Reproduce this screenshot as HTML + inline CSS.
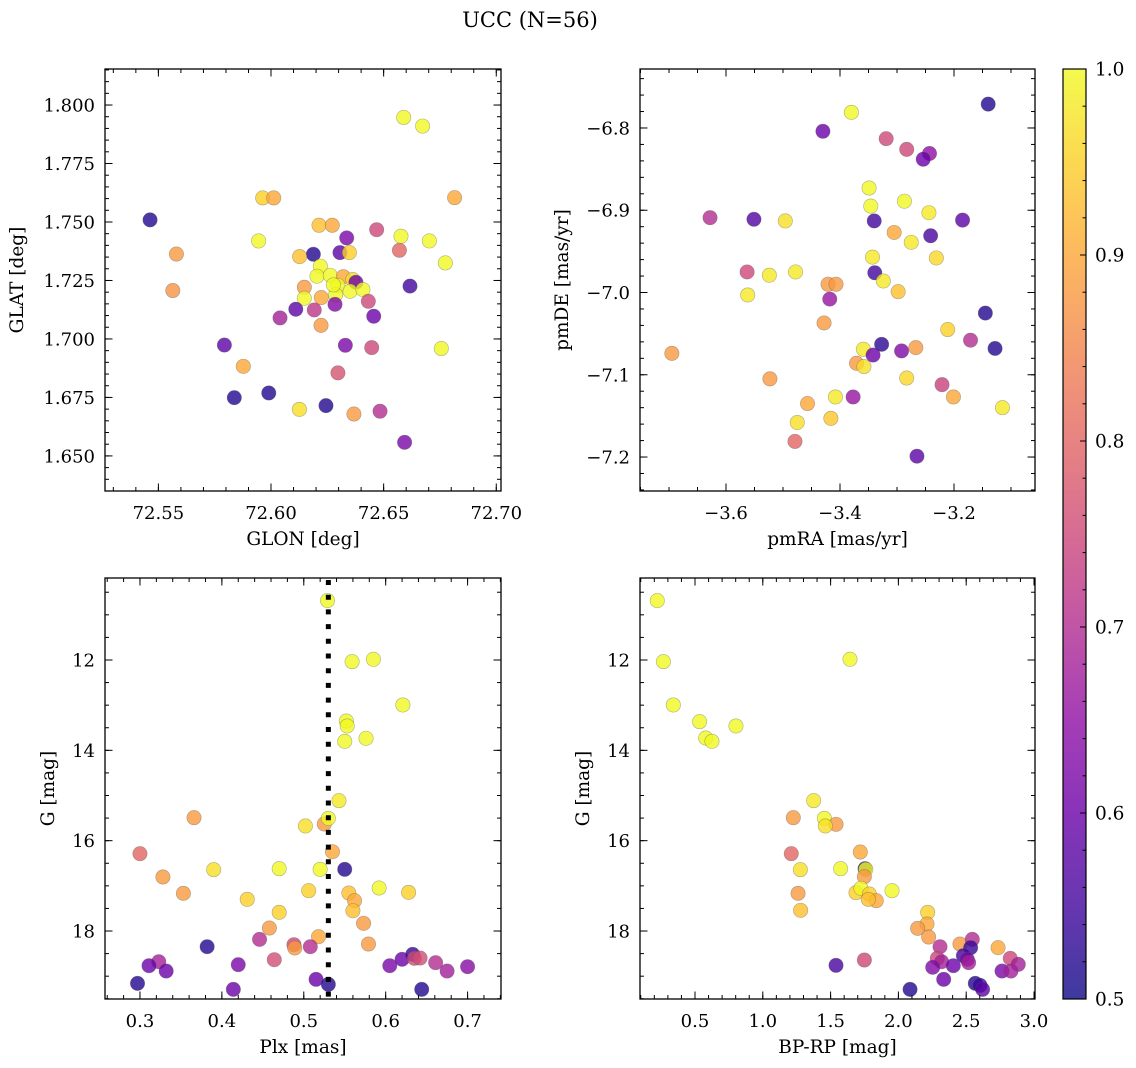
<!DOCTYPE html>
<html><head><meta charset="utf-8"><title>UCC (N=56)</title>
<style>
html,body{margin:0;padding:0;background:#fff;}
svg{display:block;font-family:"DejaVu Serif","Liberation Serif",serif;}
</style></head>
<body>
<svg id="fig" width="1136" height="1068" viewBox="0 0 1136 1068" xmlns="http://www.w3.org/2000/svg">
<text x="530" y="27" font-size="21" text-anchor="middle">UCC (N=56)</text>
</svg>
<script>
// ---- Top-left: GLON / GLAT ----
const tlGlon = [72.6589,72.6673,72.6815,72.5463,72.5963,72.6012,72.5945,72.5580,72.5564,72.6213,72.6272,72.6336,72.6469,72.6577,72.6703,72.6570,72.6774,72.6188,72.6306,72.6348,72.6127,72.6219,72.6204,72.6263,72.6321,72.6363,72.6377,72.6297,72.6148,72.6351,72.6408,72.6287,72.6148,72.6223,72.6617,72.6284,72.6432,72.6110,72.6192,72.6040,72.6456,72.6222,72.5793,72.6330,72.6447,72.6756,72.5877,72.6297,72.5837,72.5990,72.6126,72.6244,72.6368,72.6484,72.6593,72.6277];
const tlGlat = [1.7947,1.7910,1.7604,1.7509,1.7603,1.7603,1.7419,1.7363,1.7207,1.7486,1.7486,1.7432,1.7467,1.7439,1.7419,1.7379,1.7325,1.7362,1.7369,1.7369,1.7352,1.7311,1.7268,1.7272,1.7266,1.7254,1.7242,1.7229,1.7221,1.7204,1.7211,1.7189,1.7174,1.7177,1.7226,1.7148,1.7161,1.7127,1.7124,1.7090,1.7097,1.7058,1.6974,1.6973,1.6963,1.6959,1.6883,1.6855,1.6749,1.6769,1.6699,1.6715,1.6679,1.6691,1.6558,1.7231];
const tlProb = [1.0,1.0,0.9,0.52,0.95,0.9,1.0,0.88,0.87,0.93,0.9,0.62,0.75,1.0,1.0,0.8,1.0,0.52,0.58,0.95,0.93,1.0,1.0,1.0,0.9,0.97,0.6,1.0,0.88,1.0,1.0,1.0,1.0,0.9,0.55,0.63,0.75,0.58,0.72,0.68,0.6,0.88,0.58,0.62,0.75,1.0,0.9,0.77,0.52,0.52,0.97,0.52,0.88,0.7,0.62,1.0];
// ---- Top-right: pmRA / pmDE ----
const trPmra = [-3.140,-3.380,-3.430,-3.319,-3.283,-3.243,-3.254,-3.349,-3.287,-3.346,-3.244,-3.628,-3.551,-3.496,-3.340,-3.185,-3.305,-3.275,-3.241,-3.343,-3.231,-3.563,-3.524,-3.478,-3.339,-3.324,-3.421,-3.407,-3.298,-3.562,-3.418,-3.145,-3.428,-3.211,-3.695,-3.523,-3.479,-3.475,-3.457,-3.416,-3.408,-3.377,-3.371,-3.359,-3.358,-3.342,-3.327,-3.292,-3.283,-3.267,-3.265,-3.221,-3.201,-3.171,-3.128,-3.115];
const trPmde = [-6.771,-6.781,-6.804,-6.813,-6.826,-6.831,-6.838,-6.873,-6.889,-6.895,-6.903,-6.909,-6.911,-6.913,-6.913,-6.912,-6.927,-6.939,-6.931,-6.957,-6.958,-6.975,-6.979,-6.975,-6.976,-6.986,-6.990,-6.990,-6.999,-7.003,-7.008,-7.025,-7.037,-7.045,-7.074,-7.105,-7.181,-7.158,-7.135,-7.153,-7.127,-7.127,-7.086,-7.069,-7.090,-7.076,-7.063,-7.071,-7.104,-7.067,-7.199,-7.112,-7.127,-7.058,-7.068,-7.140];
const trProb = [0.52,1.0,0.6,0.75,0.75,0.65,0.6,1.0,1.0,1.0,0.98,0.7,0.57,0.97,0.55,0.58,0.9,0.98,0.56,0.98,0.96,0.75,0.98,0.98,0.55,0.98,0.88,0.88,0.93,0.98,0.66,0.52,0.88,0.95,0.88,0.88,0.8,0.97,0.9,0.94,0.98,0.66,0.88,0.98,0.97,0.6,0.53,0.63,0.96,0.88,0.58,0.74,0.9,0.7,0.52,0.98];
// ---- Bottom-left: Plx / G ----
const blPlx = [0.529,0.559,0.585,0.621,0.552,0.553,0.550,0.576,0.543,0.366,0.502,0.525,0.530,0.535,0.300,0.390,0.470,0.520,0.550,0.328,0.353,0.431,0.506,0.555,0.562,0.592,0.628,0.470,0.560,0.458,0.573,0.518,0.579,0.446,0.488,0.489,0.508,0.382,0.464,0.323,0.311,0.332,0.420,0.605,0.620,0.633,0.635,0.642,0.661,0.675,0.700,0.297,0.414,0.515,0.530,0.644];
const blG = [10.686,12.037,11.985,12.996,13.351,13.461,13.801,13.734,15.114,15.491,15.675,15.631,15.506,16.244,16.288,16.642,16.620,16.635,16.635,16.804,17.166,17.299,17.107,17.159,17.328,17.048,17.144,17.587,17.550,17.934,17.830,18.125,18.288,18.185,18.303,18.376,18.347,18.347,18.635,18.679,18.768,18.886,18.745,18.768,18.627,18.517,18.605,18.598,18.701,18.886,18.790,19.159,19.292,19.070,19.181,19.292];
const blProb = [1.0,1.0,1.0,1.0,1.0,1.0,1.0,1.0,0.98,0.88,0.97,0.88,1.0,0.9,0.8,0.97,1.0,1.0,0.52,0.88,0.88,0.95,0.95,0.93,0.9,1.0,0.95,0.95,0.93,0.88,0.88,0.9,0.88,0.7,0.75,0.88,0.7,0.52,0.76,0.68,0.6,0.6,0.62,0.62,0.6,0.54,0.75,0.76,0.7,0.68,0.64,0.52,0.6,0.6,0.52,0.52];
// ---- Bottom-right: BP-RP / G ----
const brBprp = [0.222,0.267,1.643,0.340,0.534,0.579,0.625,0.802,1.375,1.225,1.454,1.540,1.461,1.719,1.210,1.277,1.574,1.754,1.759,1.749,1.260,1.279,1.687,1.724,1.786,1.837,1.778,1.953,2.216,2.211,2.142,2.223,2.307,2.454,2.545,2.533,2.735,2.287,2.319,2.479,2.508,2.518,2.253,2.405,2.825,2.884,2.764,2.830,2.334,2.567,2.602,2.621,2.086,1.540,1.749];
const brG = [10.686,12.037,11.985,12.996,13.365,13.727,13.801,13.461,15.114,15.491,15.506,15.638,15.675,16.251,16.288,16.642,16.620,16.620,16.635,16.797,17.166,17.542,17.151,17.055,17.181,17.328,17.299,17.107,17.587,17.845,17.941,18.133,18.347,18.288,18.185,18.369,18.369,18.605,18.679,18.546,18.627,18.701,18.804,18.768,18.605,18.738,18.886,18.886,19.070,19.159,19.203,19.292,19.292,18.760,18.642];
const brProb = [1.0,1.0,1.0,1.0,1.0,1.0,1.0,1.0,0.98,0.88,1.0,0.88,0.97,0.9,0.8,0.97,1.0,0.52,1.0,0.88,0.88,0.93,0.95,1.0,0.95,0.9,0.93,1.0,0.95,0.9,0.88,0.88,0.7,0.88,0.7,0.54,0.9,0.75,0.68,0.55,0.62,0.68,0.63,0.6,0.75,0.68,0.62,0.68,0.6,0.52,0.54,0.58,0.52,0.56,0.75];
// ---- Tick labels ----
const tlXTicks = [72.55,72.60,72.65,72.70];
const tlXLabels = ["72.55","72.60","72.65","72.70"];
const tlYTicks = [1.650,1.675,1.700,1.725,1.750,1.775,1.800];
const tlYLabels = ["1.650","1.675","1.700","1.725","1.750","1.775","1.800"];
const trXTicks = [-3.6,-3.4,-3.2];
const trXLabels = ["\u22123.6","\u22123.4","\u22123.2"];
const trYTicks = [-6.8,-6.9,-7.0,-7.1,-7.2];
const trYLabels = ["\u22126.8","\u22126.9","\u22127.0","\u22127.1","\u22127.2"];
const blXTicks = [0.3,0.4,0.5,0.6,0.7];
const blXLabels = ["0.3","0.4","0.5","0.6","0.7"];
const gTicks = [12,14,16,18];
const gLabels = ["12","14","16","18"];
const brXTicks = [0.5,1.0,1.5,2.0,2.5,3.0];
const brXLabels = ["0.5","1.0","1.5","2.0","2.5","3.0"];
const cbTicks = [0.5,0.6,0.7,0.8,0.9,1.0];
const cbLabels = ["0.5","0.6","0.7","0.8","0.9","1.0"];
const plxLine = 0.53;

const NS = "http://www.w3.org/2000/svg";
const svg = document.getElementById('fig');
function mk(tag, attrs, parent){
  const e = document.createElementNS(NS, tag);
  for (const k in attrs) e.setAttribute(k, attrs[k]);
  (parent||svg).appendChild(e);
  return e;
}
const plasma = [[13,8,135],[65,4,157],[106,0,168],[143,13,164],[177,42,144],[204,71,120],[225,100,98],[242,132,75],[252,166,54],[252,206,37],[240,249,33]];
function cmap(t){
  t = Math.max(0, Math.min(1, t));
  const f = t*10, i = Math.min(9, Math.floor(f)), r = f - i;
  const a = plasma[i], b = plasma[i+1];
  return 'rgb(' + [0,1,2].map(k => Math.round(a[k] + (b[k]-a[k])*r)).join(',') + ')';
}
const vmin = 0.5, vmax = 1.0;
const TICKFS = 18, TITLEFS = 18.5;

function panel(cfg){
  const g = mk('g', {});
  
  
  const sx = v => cfg.x0 + (v - cfg.xmin) / (cfg.xmax - cfg.xmin) * (cfg.x1 - cfg.x0);
  const sy = cfg.invert
    ? (v => cfg.y0 + (v - cfg.ymin) / (cfg.ymax - cfg.ymin) * (cfg.y1 - cfg.y0))
    : (v => cfg.y1 - (v - cfg.ymin) / (cfg.ymax - cfg.ymin) * (cfg.y1 - cfg.y0));
  const pts = mk('g', {}, g);
  
  
  for (let i = 0; i < cfg.xs.length; i++){
    const c = mk('circle', {cx: sx(cfg.xs[i]), cy: sy(cfg.ys[i]), r: 7.2,
      fill: cmap((cfg.cs[i]-vmin)/(vmax-vmin)), 'fill-opacity': 0.8,
      stroke: '#555', 'stroke-opacity': 0.45, 'stroke-width': 0.6}, pts);
    
    
  }
  if (cfg.vline !== undefined){
    const l = mk('line', {x1: sx(cfg.vline), x2: sx(cfg.vline), y1: cfg.y0+2, y2: cfg.y1, stroke: '#000', 'stroke-width': 5, 'stroke-dasharray': '5 9.7'}, g);
    
    
  }
  const fr = mk('rect', {x: cfg.x0, y: cfg.y0, width: cfg.x1-cfg.x0, height: cfg.y1-cfg.y0, fill: 'none', stroke: '#000', 'stroke-width': 1.3}, g);
  
  
  const tk = mk('g', {stroke: '#000', 'stroke-width': 1}, g);
  
  
  function xt(v, len){ const x = sx(v); mk('line', {x1:x,x2:x,y1:cfg.y1,y2:cfg.y1-len}, tk); mk('line', {x1:x,x2:x,y1:cfg.y0,y2:cfg.y0+len}, tk); }
  function yt(v, len){ const y = sy(v); mk('line', {x1:cfg.x0,x2:cfg.x0+len,y1:y,y2:y}, tk); mk('line', {x1:cfg.x1,x2:cfg.x1-len,y1:y,y2:y}, tk); }
  const lo = Math.min(cfg.xmin,cfg.xmax), hi = Math.max(cfg.xmin,cfg.xmax);
  for (let k = Math.ceil(lo/cfg.xminor - 1e-6); k*cfg.xminor <= hi + 1e-9; k++) xt(k*cfg.xminor, 4);
  const ylo = Math.min(cfg.ymin,cfg.ymax), yhi = Math.max(cfg.ymin,cfg.ymax);
  for (let k = Math.ceil(ylo/cfg.yminor - 1e-6); k*cfg.yminor <= yhi + 1e-9; k++) yt(k*cfg.yminor, 4);
  cfg.xticks.forEach(v => xt(v, 7.5));
  cfg.yticks.forEach(v => yt(v, 7.5));
  cfg.xticks.forEach((v, i) => {
    const t = mk('text', {x: sx(v), y: cfg.y1 + 28, 'font-size': TICKFS, 'text-anchor': 'middle'}, g);
    t.textContent = cfg.xlabels[i];
    
    
  });
  cfg.yticks.forEach((v, i) => {
    const t = mk('text', {x: cfg.x0 - 10, y: sy(v) + 6.5, 'font-size': TICKFS, 'text-anchor': 'end'}, g);
    t.textContent = cfg.ylabels[i];
    
    
  });
  const xtT = mk('text', {x: (cfg.x0+cfg.x1)/2, y: cfg.y1 + 54, 'font-size': TITLEFS, 'text-anchor': 'middle'}, g);
  xtT.textContent = cfg.xtitle;
  
  
  const ym = (cfg.y0+cfg.y1)/2;
  const ytT = mk('text', {x: cfg.ytx, y: ym, 'font-size': TITLEFS, 'text-anchor': 'middle', transform: 'rotate(-90 ' + cfg.ytx + ' ' + ym + ')'}, g);
  ytT.textContent = cfg.ytitle;
  
  
}

panel({name:'glon-glat-panel', x0:105, x1:501, y0:69, y1:491, xmin:72.5263, xmax:72.7021, ymin:1.6350, ymax:1.8154,
  xs: tlGlon, ys: tlGlat, cs: tlProb, xticks: tlXTicks, xlabels: tlXLabels, yticks: tlYTicks, ylabels: tlYLabels,
  xminor: 0.01, yminor: 0.005, xtitle: 'GLON [deg]', ytitle: 'GLAT [deg]', ytx: 23});
panel({name:'pm-panel', x0:640, x1:1035, y0:69, y1:491, xmin:-3.7509, xmax:-3.0579, ymin:-7.2413, ymax:-6.7283,
  xs: trPmra, ys: trPmde, cs: trProb, xticks: trXTicks, xlabels: trXLabels, yticks: trYTicks, ylabels: trYLabels,
  xminor: 0.05, yminor: 0.02, xtitle: 'pmRA [mas/yr]', ytitle: 'pmDE [mas/yr]', ytx: 568});
panel({name:'plx-g-panel', x0:105, x1:501, y0:578, y1:999, xmin:0.2573, xmax:0.7408, ymin:10.185, ymax:19.505, invert:true,
  xs: blPlx, ys: blG, cs: blProb, xticks: blXTicks, xlabels: blXLabels, yticks: gTicks, ylabels: gLabels,
  xminor: 0.02, yminor: 0.5, xtitle: 'Plx [mas]', ytitle: 'G [mag]', ytx: 54, vline: plxLine});
panel({name:'cmd-panel', x0:640, x1:1035, y0:578, y1:999, xmin:0.0944, xmax:3.0074, ymin:10.185, ymax:19.505, invert:true,
  xs: brBprp, ys: brG, cs: brProb, xticks: brXTicks, xlabels: brXLabels, yticks: gTicks, ylabels: gLabels,
  xminor: 0.1, yminor: 0.5, xtitle: 'BP-RP [mag]', ytitle: 'G [mag]', ytx: 589});

// ---- Colorbar ----
const cb = mk('g', {});


const defs = mk('defs', {}, cb);
const grad = mk('linearGradient', {id: 'cbg', x1: 0, y1: 1, x2: 0, y2: 0}, defs);
for (let i = 0; i <= 20; i++) mk('stop', {offset: i/20, 'stop-color': cmap(i/20)}, grad);
const cbx0 = 1063, cbx1 = 1086, cby0 = 69, cby1 = 999;
const cbR = mk('rect', {x: cbx0, y: cby0, width: cbx1-cbx0, height: cby1-cby0, fill: 'url(#cbg)', 'fill-opacity': 0.8, stroke: '#000', 'stroke-width': 1.2}, cb);


const cy = v => cby1 - (v - vmin)/(vmax - vmin)*(cby1 - cby0);
for (let k = 25; k <= 50; k++){ const v = k*0.02; const y = cy(v); mk('line', {x1: cbx1, x2: cbx1-3.5, y1: y, y2: y, stroke: '#000', 'stroke-width': 1}, cb); }
cbTicks.forEach((v, i) => {
  const y = cy(v);
  mk('line', {x1: cbx1, x2: cbx1-6, y1: y, y2: y, stroke: '#000', 'stroke-width': 1}, cb);
  const t = mk('text', {x: 1095, y: y + 6.5, 'font-size': 18.5}, cb);
  t.textContent = cbLabels[i];
  
  
});
</script>
</body></html>
